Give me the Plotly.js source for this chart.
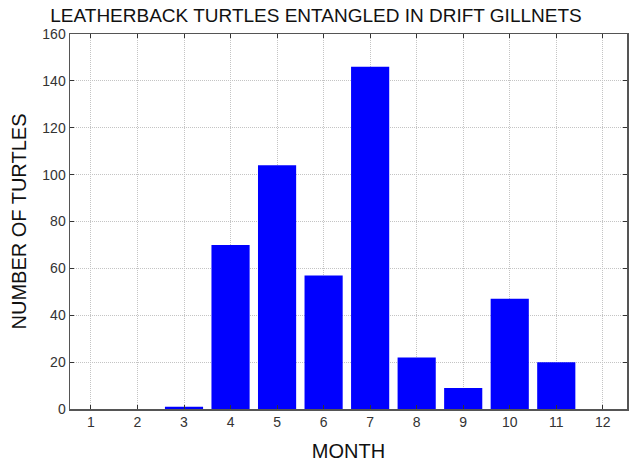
<!DOCTYPE html>
<html><head><meta charset="utf-8">
<script src="https://cdn.plot.ly/plotly-3.0.1.min.js"></script>
<style>html,body{margin:0;padding:0;background:#fff}#chart{width:632px;height:465px}</style>
</head><body><div id="chart"></div>
<script>
const months = [1,2,3,4,5,6,7,8,9,10,11,12];
const turtles = [0,0,1,70,104,57,146,22,9,47,20,0];
const yTicks = [0,20,40,60,80,100,120,140,160];

const trace = {type:'bar', x:months, y:turtles, width:0.82,
  marker:{color:'#0000ff', line:{width:0}}, hoverinfo:'x+y'};

const tickFont = {family:'Liberation Sans Narrow, Liberation Sans, Arial, sans-serif', size:14, color:'#333'};
const layout = {
  width:632, height:465,
  margin:{l:70, r:5, t:34, b:56},
  paper_bgcolor:'#fff', plot_bgcolor:'#fff',
  font:{family:'Liberation Sans, Arial, sans-serif', color:'#222'},
  title:{text:'LEATHERBACK TURTLES ENTANGLED IN DRIFT GILLNETS', font:{size:19, color:'#111'}, x:0.5, xanchor:'center', y:0.967, yanchor:'middle'},
  xaxis:{range:[0.55,12.52], tickvals:months, ticktext:months.map(String), ticks:'inside', ticklen:4, tickcolor:'#333',
    showline:true, linecolor:'#555', linewidth:1.5, mirror:'allticks', showgrid:true, gridcolor:'#c4c4c4', griddash:'1px,1px', gridwidth:1,
    zeroline:false, tickfont:tickFont,
    title:{text:'MONTH', font:{size:20, color:'#111'}, standoff:14}},
  yaxis:{range:[0,160], tickvals:yTicks, ticks:'inside', ticklen:4, tickcolor:'#333',
    showline:true, linecolor:'#555', linewidth:1.5, mirror:'allticks', showgrid:true, gridcolor:'#c4c4c4', griddash:'1px,1px', gridwidth:1,
    zeroline:false, tickfont:tickFont,
    title:{text:'NUMBER OF TURTLES', font:{size:20, color:'#111'}, standoff:10}},
  showlegend:false
};
Plotly.newPlot('chart',[trace],layout,{displayModeBar:false, staticPlot:true});
</script></body></html>
